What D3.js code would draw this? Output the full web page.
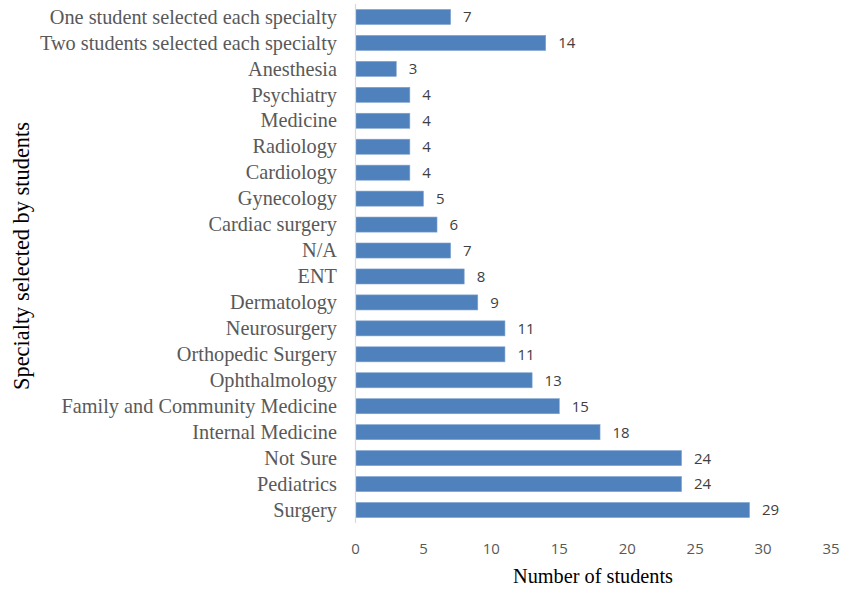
<!DOCTYPE html>
<html><head><meta charset="utf-8">
<script src="https://cdn.jsdelivr.net/npm/d3@7"></script>
<style>body{margin:0;background:#fff}</style>
</head><body>
<svg id="c" width="842" height="592"></svg>
<script>
const categories = ["One student selected each specialty","Two students selected each specialty","Anesthesia","Psychiatry","Medicine","Radiology","Cardiology","Gynecology","Cardiac surgery","N/A","ENT","Dermatology","Neurosurgery","Orthopedic Surgery","Ophthalmology","Family and Community Medicine","Internal Medicine","Not Sure","Pediatrics","Surgery"];
const values = [7,14,3,4,4,4,4,5,6,7,8,9,11,11,13,15,18,24,24,29];
const xTicks = [0,5,10,15,20,25,30,35];
const xTitle = "Number of students";
const yTitle = "Specialty selected by students";

const svg = d3.select("#c");
const x = d3.scaleLinear().domain([0,35]).range([355.5,831]);
const y = d3.scaleBand().domain(categories).range([4,523]).paddingInner(0.42).paddingOuter(0.21);

svg.selectAll("rect.bar").data(values).join("rect")
  .attr("x", x(0)).attr("y",(d,i)=>y(categories[i]))
  .attr("width", d=>x(d)-x(0)).attr("height", y.bandwidth())
  .attr("fill","#4f81bd").attr("stroke","#7ea3d1").attr("stroke-width",0.6);

svg.append("line").attr("x1",x(0)).attr("x2",x(0)).attr("y1",4).attr("y2",523)
  .attr("stroke","#d9d9d9").attr("stroke-width",1.2);

svg.selectAll("text.cat").data(categories).join("text")
  .attr("x",337).attr("y",d=>y(d)+y.bandwidth()/2).attr("dy","0.33em")
  .attr("text-anchor","end").attr("font-family","Liberation Serif, Times New Roman, serif")
  .attr("font-size",20.3).attr("fill","#595959").text(d=>d);

svg.selectAll("text.val").data(values).join("text")
  .attr("x",d=>x(d)+12.5).attr("y",(d,i)=>y(categories[i])+y.bandwidth()/2).attr("dy","0.36em")
  .attr("font-family","Open Sans, Liberation Sans, sans-serif").attr("font-size",15)
  .attr("fill","#404040").text(d=>d);

const xa = svg.append("g").attr("transform","translate(0,549)");
xa.selectAll("text").data(xTicks).join("text")
  .attr("x",d=>x(d)).attr("dy","0.35em").attr("text-anchor","middle")
  .attr("font-family","Open Sans, Liberation Sans, sans-serif").attr("font-size",15)
  .attr("fill","#595959").text(d=>d);

svg.append("text").attr("x",593).attr("y",583).attr("text-anchor","middle")
  .attr("font-family","Liberation Serif, Times New Roman, serif").attr("font-size",20.3)
  .attr("fill","#000").text(xTitle);
svg.append("text").attr("transform","translate(29,256) rotate(-90)").attr("text-anchor","middle")
  .attr("font-family","Liberation Serif, Times New Roman, serif").attr("font-size",22.4)
  .attr("fill","#000").text(yTitle);
</script>
</body></html>
